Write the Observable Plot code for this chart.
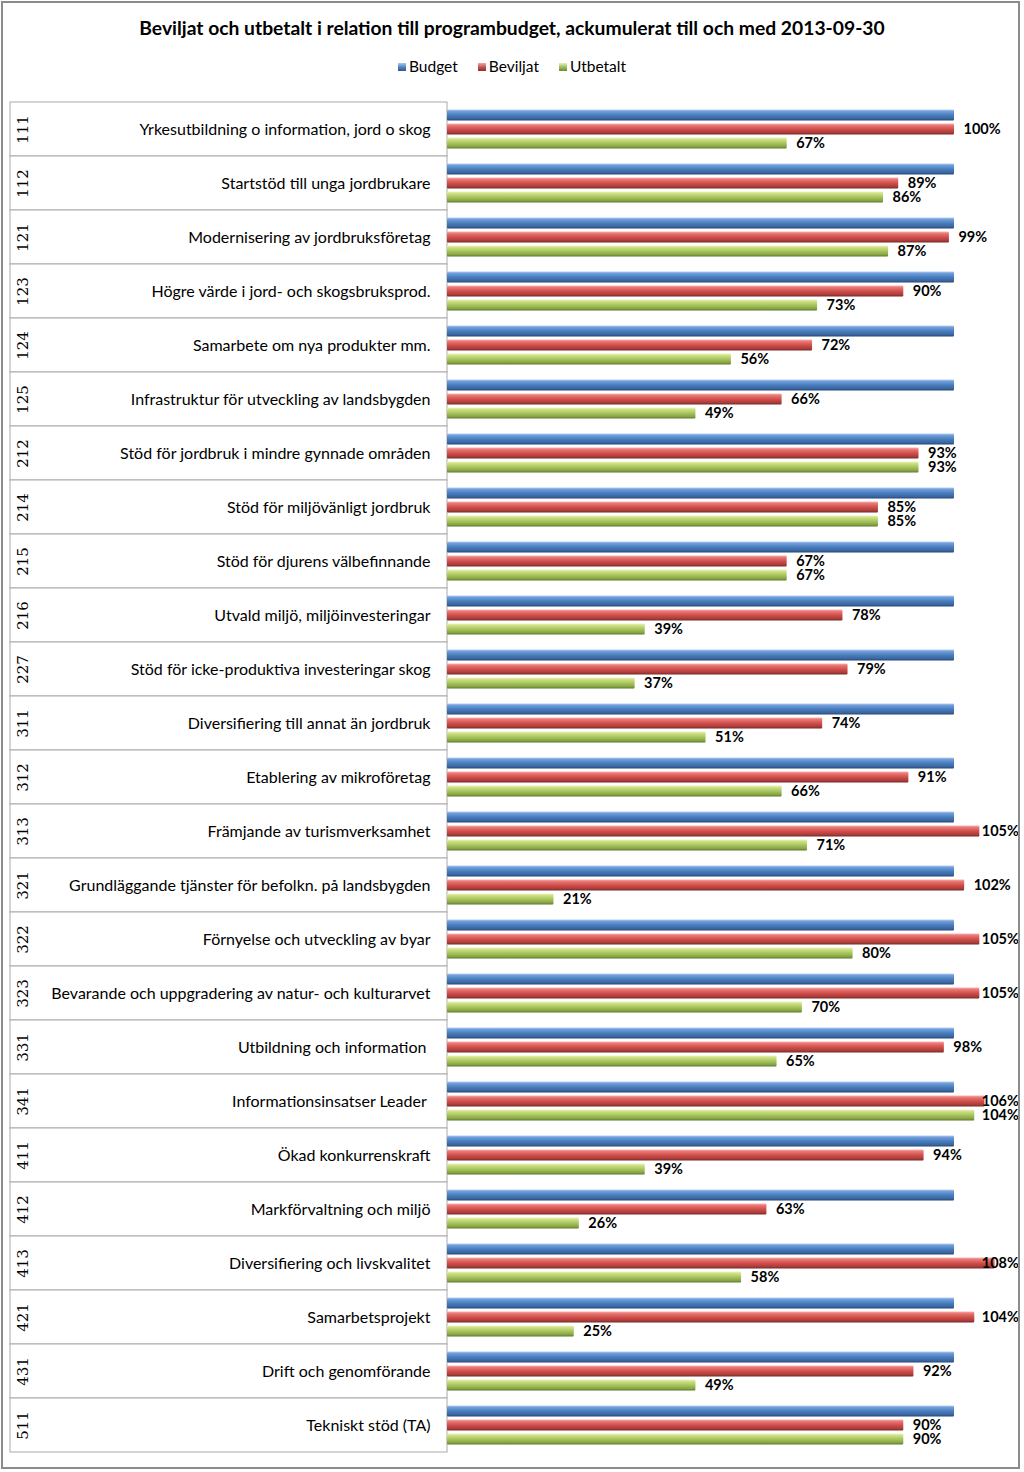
<!DOCTYPE html>
<html>
<head>
<meta charset="utf-8">
<script src="https://cdn.jsdelivr.net/npm/d3@7"></script>
<script src="https://cdn.jsdelivr.net/npm/@observablehq/plot@0.6"></script>
<style>
  html, body { margin: 0; padding: 0; background: #fff; }
  #page { position: relative; width: 1024px; height: 1472px; overflow: hidden; font-family: Lato, "Open Sans", sans-serif; }
  #frame { position: absolute; left: 1px; top: 1px; width: 1019px; height: 1468px; box-sizing: border-box; border: 2px solid #8c8c8c; z-index: 5; pointer-events: none; }
  #title { position: absolute; top: 16px; left: 0; width: 1024px; text-align: center; font-weight: bold; font-size: 19.3px; color: #000; }
  #legend { position: absolute; top: 57px; left: 0; width: 1024px; text-align: center; font-size: 15.5px; color: #000; }
  #legend span.item { margin: 0 10px; }
  #legend span.sw { display: inline-block; width: 8px; height: 8px; margin-right: 3px; vertical-align: 1px; }
  #chart { position: absolute; top: 90px; left: 0; }
</style>
</head>
<body>
<div id="page">
  <div id="title">Beviljat och utbetalt i relation till programbudget, ackumulerat till och med 2013-09-30</div>
  <div id="legend"></div>
  <div id="chart"></div>
  <div id="frame"></div>
</div>
<script>
const codes = ["111","112","121","123","124","125","212","214","215","216","227","311","312","313","321","322","323","331","341","411","412","413","421","431","511"];
const labels = [
  "Yrkesutbildning o information, jord o skog",
  "Startstöd till unga jordbrukare",
  "Modernisering av jordbruksföretag",
  "Högre värde i jord- och skogsbruksprod.",
  "Samarbete om nya produkter mm.",
  "Infrastruktur för utveckling av landsbygden",
  "Stöd för jordbruk i mindre gynnade områden",
  "Stöd för miljövänligt jordbruk",
  "Stöd för djurens välbefinnande",
  "Utvald miljö, miljöinvesteringar",
  "Stöd för icke-produktiva investeringar skog",
  "Diversifiering till annat än jordbruk",
  "Etablering av mikroföretag",
  "Främjande av turismverksamhet",
  "Grundläggande tjänster för befolkn. på landsbygden",
  "Förnyelse och utveckling av byar",
  "Bevarande och uppgradering av natur- och kulturarvet",
  "Utbildning och information ",
  "Informationsinsatser Leader ",
  "Ökad konkurrenskraft",
  "Markförvaltning och miljö",
  "Diversifiering och livskvalitet",
  "Samarbetsprojekt",
  "Drift och genomförande",
  "Tekniskt stöd (TA)"
];
const budget   = [100,100,100,100,100,100,100,100,100,100,100,100,100,100,100,100,100,100,100,100,100,100,100,100,100];
const beviljat = [100,89,99,90,72,66,93,85,67,78,79,74,91,105,102,105,105,98,106,94,63,108,104,92,90];
const utbetalt = [67,86,87,73,56,49,93,85,67,39,37,51,66,71,21,80,70,65,104,39,26,58,25,49,90];
const seriesNames = ["Budget","Beviljat","Utbetalt"];

const rows = codes.map((c, i) => ({code: c, label: labels[i], budget: budget[i], beviljat: beviljat[i], utbetalt: utbetalt[i]}));

// legend
const swatchBg = [
  "linear-gradient(#a9c6ec, #4f81bd 55%, #2f5587)",
  "linear-gradient(#f3a5a3, #c0504d 55%, #8a2f2d)",
  "linear-gradient(#e4f1b6, #9bbb59 55%, #6b8a33)"
];
document.getElementById("legend").innerHTML = seriesNames.map((s, i) =>
  `<span class="item"><span class="sw" style="background:${swatchBg[i]}"></span>${s}</span>`).join("");

const font = "Lato, 'Open Sans', sans-serif";
const labelClamp = 103.6;

const chart = Plot.plot({
  width: 1024,
  height: 1372,
  marginTop: 12,
  marginBottom: 10,
  marginLeft: 447,
  marginRight: 70,
  x: {domain: [0, 100], axis: null, clamp: false},
  y: {domain: codes, axis: null, padding: 0},
  style: {fontFamily: font, background: "transparent"},
  marks: [
    // left table cells
    Plot.barX(rows, {x1: 0, x2: 0, y: "code", insetLeft: -437, fill: "white", stroke: "#a9a9a9", strokeWidth: 1}),
    // code column (rotated)
    Plot.text(rows, {y: "code", text: "code", frameAnchor: "left", textAnchor: "middle", dx: -424, rotate: -90, fontSize: 15, fontFamily: "'DejaVu Serif', serif", fill: "#000"}),
    // label column
    Plot.text(rows, {y: "code", text: "label", frameAnchor: "left", dx: -17, textAnchor: "end", fontSize: 16, fill: "#000"}),
    // bars
    Plot.barX(rows, {x: "budget", y: "code", dy: -14, insetTop: 21.5, insetBottom: 21.5, fill: "url(#gBlue)", rx: 1}),
    Plot.barX(rows, {x: "beviljat", y: "code", dy: 0, insetTop: 21.5, insetBottom: 21.5, fill: "url(#gRed)", rx: 1}),
    Plot.barX(rows, {x: "utbetalt", y: "code", dy: 14, insetTop: 21.5, insetBottom: 21.5, fill: "url(#gGreen)", rx: 1}),
    // value labels
    Plot.text(rows, {x: d => Math.min(d.beviljat, labelClamp), y: "code", dy: 0, dx: 9, text: d => d.beviljat + "%", textAnchor: "start", fontWeight: "bold", fontSize: 14.5, fill: "#000"}),
    Plot.text(rows, {x: d => Math.min(d.utbetalt, labelClamp), y: "code", dy: 14, dx: 9, text: d => d.utbetalt + "%", textAnchor: "start", fontWeight: "bold", fontSize: 14.5, fill: "#000"})
  ]
});

// gradient defs for the bevelled bar look
const ns = "http://www.w3.org/2000/svg";
const defs = document.createElementNS(ns, "defs");
const grads = {
  gBlue:  [["0", "#b3cdef"], ["0.18", "#6f9ddb"], ["0.5", "#4a7ebe"], ["0.82", "#3a67a3"], ["1", "#264672"]],
  gRed:   [["0", "#f7b3b1"], ["0.18", "#ea7774"], ["0.5", "#d2504d"], ["0.82", "#a93d3a"], ["1", "#7a2826"]],
  gGreen: [["0", "#eaf5c0"], ["0.18", "#cde183"], ["0.5", "#a9c65f"], ["0.82", "#88a545"], ["1", "#5d772a"]]
};
for (const [id, stops] of Object.entries(grads)) {
  const g = document.createElementNS(ns, "linearGradient");
  g.setAttribute("id", id);
  g.setAttribute("x1", "0"); g.setAttribute("y1", "0");
  g.setAttribute("x2", "0"); g.setAttribute("y2", "1");
  for (const [o, c] of stops) {
    const s = document.createElementNS(ns, "stop");
    s.setAttribute("offset", o);
    s.setAttribute("stop-color", c);
    g.appendChild(s);
  }
  defs.appendChild(g);
}
chart.insertBefore(defs, chart.firstChild);
document.getElementById("chart").appendChild(chart);
</script>
</body>
</html>
